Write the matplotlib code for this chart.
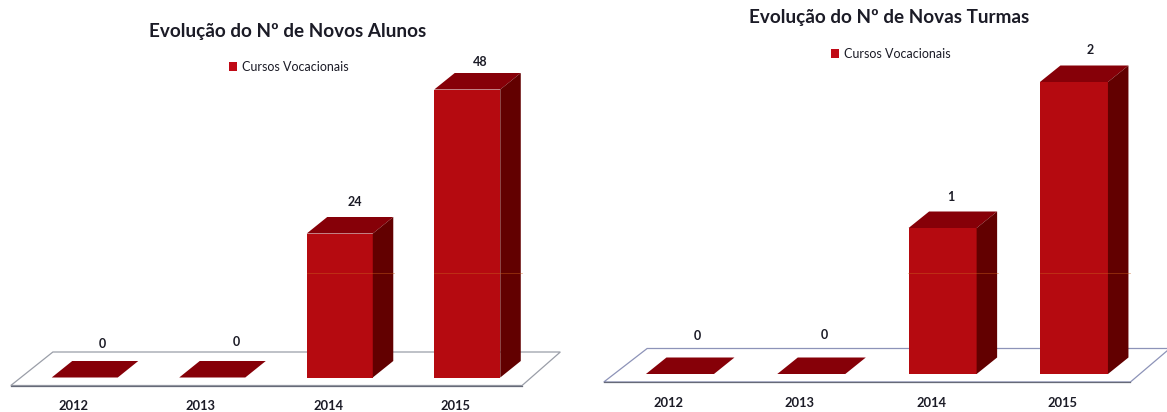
import numpy as np
import matplotlib
matplotlib.use("Agg")
import matplotlib.pyplot as plt
from matplotlib.patches import Patch, Polygon

plt.rcParams['font.family'] = ['Lato', 'DejaVu Sans']

W, H = 1167, 412

years = ['2012', '2013', '2014', '2015']
series_name = 'Cursos Vocacionais'

titles = ['Evolução do Nº de Novos Alunos', 'Evolução do Nº de Novas Turmas']
novos_alunos = [0, 0, 24, 48]
novas_turmas = [0, 0, 1, 2]

FRONT = '#b50a10'
TOP = '#860008'
SIDE = '#620000'
TEXT = '#1b1b26'


def px_axes(fig, left, right, bottom, top):
    # axes rectangle given in image pixels (y measured from the top)
    return fig.add_axes([left / W, 1 - bottom / H, (right - left) / W, (bottom - top) / H])


def draw_chart(fig, values, title, box, ymax, title_pos, legend_pos, label_px, floor_color):
    left, right, bottom, top = box
    ax = px_axes(fig, left, right, bottom, top)
    ax.set_xlim(-0.5, 3.5)
    ax.set_ylim(0, ymax)
    x = np.arange(len(values))

    # size of one pixel in data units, the 3d look is built from these
    ux = 4 / (right - left)
    uy = ymax / (bottom - top)
    width = 0.518
    dx = 20.5 * ux
    dy = 16.5 * uy

    # floor
    fl, fr = -0.58, 3.43
    bl, br = -0.25, 3.73
    fy, by = -8 * uy, 25.5 * uy
    ax.add_patch(Polygon([(fl, fy), (fr, fy), (br, by), (bl, by)], closed=True, facecolor='white',
                         edgecolor=floor_color, linewidth=0.9, clip_on=False, zorder=1))
    ax.plot([fl, fr], [fy, fy], color='#666a78', lw=0.9, clip_on=False, zorder=1.5)

    bars = ax.bar(x, values, width=width, color=FRONT, zorder=3, clip_on=False)
    for xi, v in zip(x, values):
        x0, x1 = xi - width / 2, xi + width / 2
        ax.add_patch(Polygon([(x0, v), (x1, v), (x1 + dx, v + dy), (x0 + dx, v + dy)],
                             closed=True, facecolor=TOP, edgecolor='none', clip_on=False, zorder=3))
        if v > 0:
            ax.add_patch(Polygon([(x1, 0), (x1 + dx, dy), (x1 + dx, v + dy), (x1, v)],
                                 closed=True, facecolor=SIDE, edgecolor='none', clip_on=False, zorder=3))

    # value labels sit at slightly uneven places in the original
    for xi, v, (lx, ly) in zip(x, values, label_px):
        ax.annotate(str(v), (xi, v), xytext=(lx * 0.72, ly * 0.72), textcoords='offset points',
                    ha='center', va='center', fontsize=9, fontweight='bold', color=TEXT,
                    annotation_clip=False, zorder=5)

    # year labels are shifted left of the bars
    ax.set_xticks(x - 11.5 * ux, years)
    ax.tick_params(axis='x', length=0, pad=16.5)
    for lab in ax.get_xticklabels():
        lab.set_fontsize(9.3)
        lab.set_fontweight('bold')
        lab.set_color(TEXT)
    ax.set_yticks([])
    for s in ax.spines.values():
        s.set_visible(False)
    ax.patch.set_alpha(0)

    fig.text(title_pos[0] / W, 1 - title_pos[1] / H, title, ha='center', va='center',
             fontsize=13.6, fontweight='bold', color=TEXT)
    ax.legend(handles=[Patch(facecolor='#c00a16', label=series_name)], loc='center',
              bbox_to_anchor=(legend_pos[0] / W, 1 - legend_pos[1] / H),
              bbox_transform=fig.transFigure, frameon=False, fontsize=9,
              handlelength=0.65, handleheight=0.65, handletextpad=0.4,
              labelcolor=TEXT, borderpad=0)
    return bars


fig = plt.figure(figsize=(W / 100, H / 100), dpi=100, facecolor='white')

draw_chart(fig, novos_alunos, titles[0], (21, 531, 377.5, 89.5), 48, (288, 31), (289, 67),
           [(18, 33), (24, 36), (15, 32), (13, 28)], '#9a9ea8')
draw_chart(fig, novas_turmas, titles[1], (614.3, 1139.6, 374, 82), 2, (889, 17), (891, 54),
           [(17, 38), (13, 39), (8, 31), (16, 32)], '#8d93b8')

# faint scan streak that runs through the tall bars
for x0, x1 in [(307, 394), (434, 522), (908, 998), (1040, 1130)]:
    fig.add_artist(plt.Line2D([x0 / W, x1 / W], [1 - 273 / H] * 2, color='#c9601c', lw=0.5, alpha=0.6, zorder=6))

fig.savefig('out.png', dpi=100)
